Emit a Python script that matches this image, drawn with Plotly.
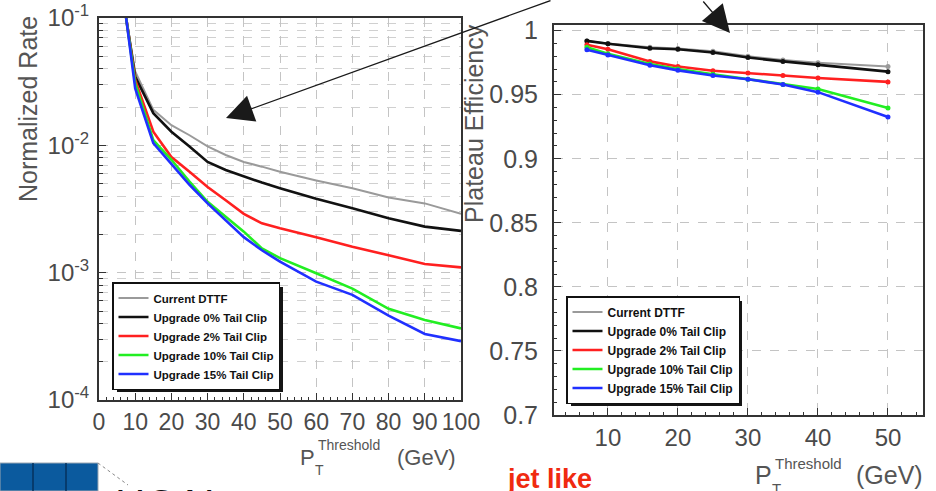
import plotly.graph_objects as go

W, H = 936, 491

series_names = ["Current DTTF", "Upgrade 0% Tail Clip", "Upgrade 2% Tail Clip",
                "Upgrade 10% Tail Clip", "Upgrade 15% Tail Clip"]
series_colors = ["#9a9a9a", "#111111", "#ff2020", "#22ee22", "#2030ff"]
series_widths = [2, 2.6, 2.6, 2.6, 2.6]

# Left panel: normalized rate vs PT threshold
rate_threshold = [7.5, 10, 15, 20, 25, 30, 35, 40, 45, 50, 60, 70, 80, 90, 100]
rate_current = [0.1, 0.038, 0.019, 0.0144, 0.012, 0.0098, 0.0084, 0.0074, 0.0068,
                0.0062, 0.0053, 0.0046, 0.0039, 0.0035, 0.0029]
rate_up0 = [0.1, 0.0346, 0.0179, 0.0128, 0.0098, 0.0074, 0.0064, 0.0057, 0.0051,
            0.0046, 0.0038, 0.0032, 0.00267, 0.0023, 0.00213]
rate_up2 = [0.1, 0.0326, 0.0128, 0.0081, 0.0062, 0.0047, 0.0037, 0.0029, 0.00244,
            0.00223, 0.0019, 0.0016, 0.00137, 0.00117, 0.0011]
rate_up10 = [0.1, 0.0307, 0.011, 0.0077, 0.0052, 0.0036, 0.00275, 0.0021, 0.00155,
             0.0013, 0.00099, 0.00075, 0.00052, 0.000425, 0.000365]
rate_up15 = [0.1, 0.028, 0.0104, 0.0072, 0.0049, 0.0035, 0.0026, 0.0019, 0.0015,
             0.00122, 0.00085, 0.00067, 0.00046, 0.00033, 0.00029]

# Right panel: plateau efficiency vs PT threshold
eff_threshold = [7, 10, 16, 20, 25, 30, 35, 40, 50]
eff_current = [0.992, 0.990, 0.987, 0.986, 0.984, 0.980, 0.977, 0.975, 0.972]
eff_up0 = [0.992, 0.9897, 0.9863, 0.9855, 0.983, 0.979, 0.976, 0.9733, 0.968]
eff_up2 = [0.989, 0.9855, 0.976, 0.972, 0.9687, 0.967, 0.965, 0.963, 0.960]
eff_up10 = [0.987, 0.982, 0.974, 0.970, 0.966, 0.962, 0.958, 0.9544, 0.9396]
eff_up15 = [0.985, 0.981, 0.973, 0.969, 0.965, 0.962, 0.958, 0.952, 0.9326]

rate_tick_vals = [1e-4, 1e-3, 1e-2, 1e-1]
rate_tick_text = ["10<sup>-4</sup>", "10<sup>-3</sup>", "10<sup>-2</sup>", "10<sup>-1</sup>"]
rate_x_ticks = [0, 10, 20, 30, 40, 50, 60, 70, 80, 90, 100]
eff_y_ticks = [0.7, 0.75, 0.8, 0.85, 0.9, 0.95, 1.0]
eff_y_text = ["0.7", "0.75", "0.8", "0.85", "0.9", "0.95", "1"]
eff_x_ticks = [10, 20, 30, 40, 50]


def px(x):
    return x / W


def py(y):
    return 1 - y / H


FONT = "Liberation Sans"
TICK_COLOR = "#4a4a4a"
TITLE_COLOR = "#555555"

fig = go.Figure()

rate_series = [rate_current, rate_up0, rate_up2, rate_up10, rate_up15]
eff_series = [eff_current, eff_up0, eff_up2, eff_up10, eff_up15]

for name, col, wdt, ys in zip(series_names, series_colors, series_widths, rate_series):
    fig.add_trace(go.Scatter(x=rate_threshold, y=ys, mode="lines", name=name,
                             line=dict(color=col, width=wdt), xaxis="x", yaxis="y",
                             legend="legend", showlegend=True))

for name, col, wdt, ys in zip(series_names, series_colors, series_widths, eff_series):
    fig.add_trace(go.Scatter(x=eff_threshold, y=ys, mode="lines+markers", name=name,
                             line=dict(color=col, width=wdt),
                             marker=dict(color=col, size=5),
                             xaxis="x2", yaxis="y2", showlegend=False))
for name, col, wdt in zip(series_names, series_colors, series_widths):
    fig.add_trace(go.Scatter(x=[None], y=[None], mode="lines", name=name,
                             line=dict(color=col, width=wdt),
                             xaxis="x2", yaxis="y2", legend="legend2", showlegend=True))

grid = dict(showgrid=True, gridcolor="#c4c4c4", griddash="dash", gridwidth=1,
            showline=True, linecolor="#333333", linewidth=2, mirror=True,
            ticks="inside", ticklen=7, tickcolor="#333333", zeroline=False,
            automargin=False)

minor_log = [k * 10 ** e for e in (-4, -3, -2) for k in range(2, 10)]

fig.update_layout(
    width=W, height=H, autosize=False,
    margin=dict(l=0, r=0, t=0, b=0, autoexpand=False),
    paper_bgcolor="white", plot_bgcolor="white",
    xaxis=dict(domain=[px(99), px(461)], range=[0, 100], tickvals=rate_x_ticks,
               anchor="y", tickfont=dict(family=FONT, size=23, color=TICK_COLOR),
               ticklabelstandoff=0,
               minor=dict(dtick=2, ticks="inside", ticklen=3, tickcolor="#333333"),
               **grid),
    yaxis=dict(domain=[py(400), py(18)], type="log", range=[-4, -1],
               tickvals=rate_tick_vals, ticktext=rate_tick_text, anchor="x",
               tickfont=dict(family=FONT, size=24, color=TICK_COLOR),
               ticklabelstandoff=3,
               minor=dict(tickvals=minor_log, showgrid=True, gridcolor="#d0d0d0",
                          griddash="dash", ticks="inside", ticklen=4,
                          tickcolor="#333333"),
               **grid),
    xaxis2=dict(domain=[px(554), px(923)], range=[2.3, 55], tickvals=eff_x_ticks,
                anchor="y2", tickfont=dict(family=FONT, size=24, color=TICK_COLOR),
                ticklabelstandoff=0,
                minor=dict(dtick=2, ticks="inside", ticklen=3, tickcolor="#333333"),
                **grid),
    yaxis2=dict(domain=[py(415), py(25)], range=[0.7, 1.0044], tickvals=eff_y_ticks,
                ticktext=eff_y_text, anchor="x2",
                tickfont=dict(family=FONT, size=25, color=TICK_COLOR),
                ticklabelstandoff=9,
                minor=dict(dtick=0.01, ticks="inside", ticklen=3, tickcolor="#333333"),
                **grid),
    legend=dict(x=px(112), y=py(282), xanchor="left", yanchor="top",
                bgcolor="white", bordercolor="#111111", borderwidth=1.5,
                font=dict(family=FONT, size=11.5, color="#111111", weight="bold"),
                tracegroupgap=0, itemwidth=30),
    legend2=dict(x=px(566), y=py(296), xanchor="left", yanchor="top",
                 bgcolor="white", bordercolor="#111111", borderwidth=1.5,
                 font=dict(family=FONT, size=12, color="#111111", weight="bold"),
                 tracegroupgap=0, itemwidth=30),
)

shapes = [
    # legend drop shadows
    dict(type="rect", xref="paper", yref="paper", x0=px(117), x1=px(283),
         y0=py(392), y1=py(287), fillcolor="#151515", line=dict(width=0), layer="above"),
    dict(type="rect", xref="paper", yref="paper", x0=px(571), x1=px(742),
         y0=py(406), y1=py(301), fillcolor="#151515", line=dict(width=0), layer="above"),
    # logo block at bottom left
    dict(type="rect", xref="paper", yref="paper", x0=px(0), x1=px(98),
         y0=py(491), y1=py(463), fillcolor="#0b5a9e", line=dict(color="#9aa6b2", width=1)),
    dict(type="line", xref="paper", yref="paper", x0=px(33), x1=px(33),
         y0=py(491), y1=py(463), line=dict(color="#06325c", width=1.5)),
    dict(type="line", xref="paper", yref="paper", x0=px(66), x1=px(66),
         y0=py(491), y1=py(463), line=dict(color="#06325c", width=1.5)),
    dict(type="line", xref="paper", yref="paper", x0=px(98), x1=px(128),
         y0=py(463), y1=py(485), line=dict(color="#888888", width=1, dash="dot")),
]
fig.update_layout(shapes=shapes)

ann = []
# axis titles
ann.append(dict(text="Normalized Rate", x=px(28), y=py(109), xref="paper", yref="paper",
                showarrow=False, textangle=-90, xanchor="center", yanchor="middle",
                font=dict(family=FONT, size=25, color=TITLE_COLOR)))
ann.append(dict(text="Plateau Efficiency", x=px(474), y=py(124), xref="paper", yref="paper",
                showarrow=False, textangle=-90, xanchor="center", yanchor="middle",
                font=dict(family=FONT, size=25, color=TITLE_COLOR)))


def pt_title(x0, yc, big, small, gev_x):
    pw = 0.667 * big
    out = []
    common = dict(xref="paper", yref="paper", showarrow=False, xanchor="left",
                  yanchor="middle", borderpad=0)
    out.append(dict(text="P", x=px(x0), y=py(yc),
                    font=dict(family=FONT, size=big, color=TITLE_COLOR), **common))
    out.append(dict(text="T", x=px(x0 + pw + 0.5), y=py(yc + 13),
                    font=dict(family=FONT, size=small, color=TITLE_COLOR), **common))
    out.append(dict(text="Threshold", x=px(x0 + pw + 3), y=py(yc - 12),
                    font=dict(family=FONT, size=small, color=TITLE_COLOR), **common))
    out.append(dict(text="(GeV)", x=px(gev_x), y=py(yc),
                    font=dict(family=FONT, size=big, color=TITLE_COLOR), **common))
    return out


ann += pt_title(299, 457, 22, 14, 396)
ann += pt_title(754, 475, 25, 15, 855)

# arrows
ann.append(dict(text="", x=px(226), y=py(118), xref="paper", yref="paper",
                showarrow=True, ax=326, ay=-122, arrowhead=2, arrowsize=4.2,
                arrowwidth=1.3, arrowcolor="#1a1a1a"))
ann.append(dict(text="", x=px(730), y=py(33), xref="paper", yref="paper",
                showarrow=True, ax=-28, ay=-38, arrowhead=2, arrowsize=4.2,
                arrowwidth=1.3, arrowcolor="#1a1a1a"))

# slide texts
ann.append(dict(text="jet like", x=px(505), y=py(479), xref="paper", yref="paper",
                showarrow=False, xanchor="left", yanchor="middle",
                font=dict(family=FONT, size=27, color="#f02a10", weight="bold")))
ann.append(dict(text="HCAL", x=px(113), y=py(479), xref="paper", yref="paper",
                showarrow=False, xanchor="left", yanchor="top",
                font=dict(family=FONT, size=42, color="#111111")))

fig.update_layout(annotations=ann)

# remove the default page margin so the figure fills the window exactly
fig.write_html("out.html", config={"displayModeBar": False},
               post_script="document.body.style.margin='0px';")
